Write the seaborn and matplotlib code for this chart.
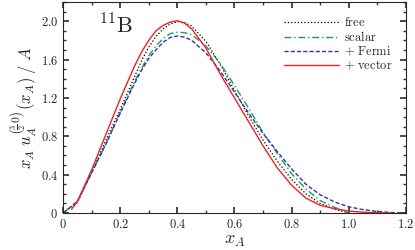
import matplotlib
matplotlib.use("Agg")
import matplotlib.pyplot as plt
import pandas as pd
import seaborn as sns
from matplotlib.ticker import MultipleLocator

# x_A grid for each curve
x_free = [0.0, 0.05, 0.1, 0.15, 0.2, 0.25, 0.275, 0.3, 0.325, 0.35, 0.375, 0.4, 0.425, 0.45, 0.5,
          0.55, 0.6, 0.65, 0.7, 0.75, 0.8, 0.85, 0.9, 0.95, 1.0]
y_free = [0.0, 0.11, 0.42, 0.76, 1.08, 1.42, 1.59, 1.73, 1.84, 1.92, 1.97, 1.995, 1.985, 1.95, 1.79,
          1.55, 1.28, 1.01, 0.76, 0.54, 0.35, 0.20, 0.10, 0.04, 0.0]

x_scalar = [0.0, 0.05, 0.1, 0.15, 0.2, 0.25, 0.275, 0.3, 0.325, 0.35, 0.375, 0.4, 0.425, 0.45, 0.5,
            0.55, 0.6, 0.65, 0.7, 0.75, 0.8, 0.85, 0.9, 0.95, 1.0]
y_scalar = [0.0, 0.12, 0.42, 0.72, 1.05, 1.37, 1.51, 1.64, 1.74, 1.82, 1.87, 1.885, 1.88, 1.86, 1.74,
            1.56, 1.33, 1.09, 0.84, 0.62, 0.41, 0.25, 0.13, 0.06, 0.0]

x_fermi = [0.0, 0.05, 0.1, 0.15, 0.2, 0.25, 0.275, 0.3, 0.325, 0.35, 0.375, 0.4, 0.425, 0.45, 0.5,
           0.55, 0.6, 0.65, 0.7, 0.75, 0.8, 0.85, 0.9, 0.95, 1.0, 1.05, 1.1, 1.15, 1.2]
y_fermi = [0.0, 0.12, 0.42, 0.72, 1.04, 1.35, 1.49, 1.61, 1.70, 1.78, 1.83, 1.845, 1.835, 1.80, 1.67,
           1.48, 1.26, 1.04, 0.83, 0.64, 0.46, 0.30, 0.19, 0.115, 0.065, 0.035, 0.016, 0.005, 0.0]

x_vector = [0.03, 0.05, 0.1, 0.15, 0.2, 0.25, 0.275, 0.3, 0.325, 0.35, 0.375, 0.4, 0.425, 0.45, 0.5,
            0.55, 0.6, 0.65, 0.7, 0.75, 0.8, 0.85, 0.9, 0.95, 1.0, 1.05, 1.1, 1.15]
y_vector = [0.04, 0.12, 0.45, 0.82, 1.19, 1.53, 1.68, 1.80, 1.90, 1.955, 1.99, 2.005, 1.98, 1.92, 1.72,
            1.45, 1.20, 0.95, 0.70, 0.47, 0.29, 0.155, 0.08, 0.045, 0.02, 0.008, 0.002, 0.0]

sns.set_theme(style="ticks")
plt.rcParams["font.family"] = ["DejaVu Serif"]
plt.rcParams["mathtext.fontset"] = "cm"

fig = plt.figure(figsize=(4.15, 2.5), dpi=100)
ax = fig.add_axes([0.152, 0.148, 0.826, 0.844])

series = [
    (r"$\mathrm{free}$", x_free, y_free, "black", ":", 0.9),
    (r"$\mathrm{scalar}$", x_scalar, y_scalar, "#1f9e5a", (0, (5, 2, 1, 2)), 1.0),
    (r"$+\ \mathrm{Fermi}$", x_fermi, y_fermi, "#3535a5", (0, (3, 1.5)), 1.0),
    (r"$+\ \mathrm{vector}$", x_vector, y_vector, "#ee2222", "-", 1.0),
]
for name, xs, ys, col, ls, lw in series:
    df = pd.DataFrame({"x": xs, "y": ys})
    sns.lineplot(data=df, x="x", y="y", ax=ax, color=col, linestyle=ls, linewidth=lw, label=name)

ax.set_xlim(0, 1.2)
ax.set_ylim(0, 2.2)
ax.xaxis.set_minor_locator(MultipleLocator(0.1))
ax.yaxis.set_minor_locator(MultipleLocator(0.1))
ax.set_xticks([0, 0.2, 0.4, 0.6, 0.8, 1.0, 1.2])
ax.set_xticklabels(["$0$", "$0.2$", "$0.4$", "$0.6$", "$0.8$", "$1.0$", "$1.2$"])
ax.set_yticks([0, 0.4, 0.8, 1.2, 1.6, 2.0])
ax.set_yticklabels(["$0$", "$0.4$", "$0.8$", "$1.2$", "$1.6$", "$2.0$"])
ax.tick_params(which="both", direction="in", top=True, right=True, labelsize=9, color="#333333")
ax.tick_params(which="major", length=4)
ax.tick_params(which="minor", length=2)
for s in ax.spines.values():
    s.set_linewidth(0.8)

ax.set_xlabel("$x_A$", fontsize=13, labelpad=0)
ax.set_ylabel(r"$x_A\; u_A^{\left(\frac{3}{2}\,0\right)}(x_A)\;/\;A$", fontsize=12, labelpad=1)
ax.text(0.105, 0.85, r"$^{11}\mathrm{B}$", transform=ax.transAxes, fontsize=16)

ax.legend(loc="upper right", frameon=False, fontsize=9, handlelength=4.4,
          handletextpad=0.4, labelspacing=0.05, bbox_to_anchor=(0.995, 0.985))

fig.savefig("out.png", dpi=100)
